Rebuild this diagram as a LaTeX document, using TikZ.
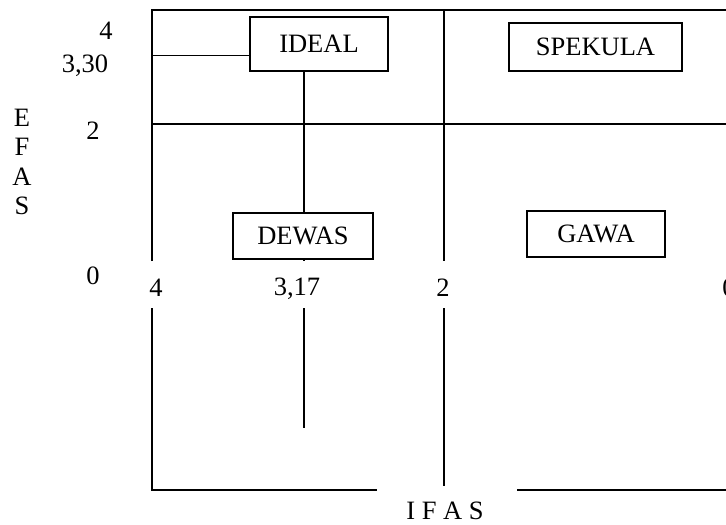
\documentclass[tikz,border=0pt]{standalone}
\usepackage{fontspec}
\setmainfont{Liberation Serif}
\begin{document}
\begin{tikzpicture}[x=1pt,y=-1pt,
  ln/.style={line width=1.4pt},
  qbox/.style={draw,line width=1.4pt,inner sep=0pt,font=\fontsize{26.5}{31}\selectfont},
  lab/.style={inner sep=0pt,font=\fontsize{26.5}{31}\selectfont}]
\useasboundingbox (0,0) rectangle (726,525);
% boxes
\node[qbox,minimum width=138pt,minimum height=54pt] (ideal) at (319,44) {IDEAL};
\node[qbox,minimum width=173pt,minimum height=48pt] (spek) at (595.5,47) {SPEKULA};
\node[qbox,minimum width=140pt,minimum height=46pt] (dewas) at (303,236) {DEWAS};
\node[qbox,minimum width=138pt,minimum height=46pt] (gawa) at (596,234) {GAWA};
% coordinates
\coordinate (tl) at (152,10);
\coordinate (tr) at (730,10);
\coordinate (a330) at (152,55.7);
\coordinate (m2l) at (152,124);
\coordinate (m2r) at (730,124);
\coordinate (lb1) at (152,261);
\coordinate (lt2) at (152,308);
\coordinate (bl) at (152,490);
\coordinate (bm1) at (377,490);
\coordinate (bm2) at (517,490);
\coordinate (br) at (730,490);
\coordinate (ct) at (444,10);
\coordinate (cb1) at (444,261);
\coordinate (ct2) at (444,308);
\coordinate (cb2) at (444,486);
\coordinate (v1) at (304,261);
\coordinate (v2) at (304,308);
\coordinate (v3) at (304,428);
% lines
\draw[ln] (lb1) -- (tl) -- (tr);
\draw[ln] (a330) -- (a330 -| ideal.west);
\draw[ln] (m2l) -- (m2r);
\draw[ln] (lt2) -- (bl) -- (bm1);
\draw[ln] (bm2) -- (br);
\draw[ln] (ct) -- (cb1);
\draw[ln] (ct2) -- (cb2);
\draw[ln] (ideal.south -| v1) -- (dewas.north -| v1);
\draw[ln] (dewas.south -| v1) -- (v1);
\draw[ln] (v2) -- (v3);
% labels
\node[lab] (y4) at (106,31) {4};
\node[lab] (y330) at (85,66) {3,30};
\node[lab] (y2) at (93,131) {2};
\node[lab] (y0) at (93,276) {0};
\node[lab,align=center,font=\fontsize{26.5}{29.5}\selectfont] (efas) at (22,162) {E\\F\\A\\S};
\node[lab] (x4) at (156,288) {4};
\node[lab] (x317) at (297,289) {3,17};
\node[lab] (x2) at (443,288) {2};
\node[lab] (x0) at (729,288) {0};
\node[lab] (ifas) at (445,511) {I F A S};
\end{tikzpicture}
\end{document}
